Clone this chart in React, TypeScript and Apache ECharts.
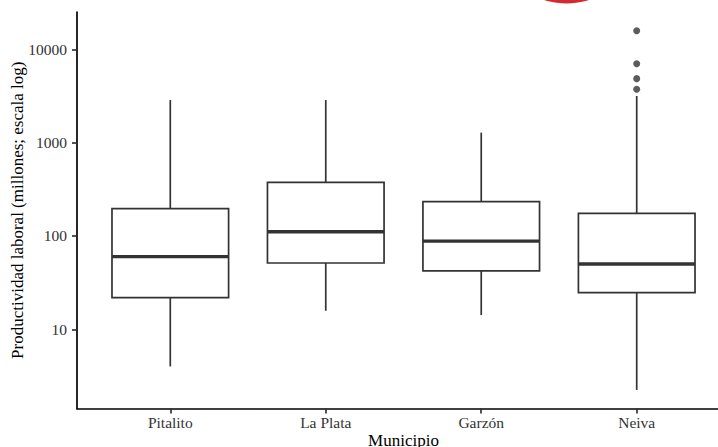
import React, { useEffect, useRef } from "react";
import * as echarts from "echarts";

const categories = ["Pitalito", "La Plata", "Garzón", "Neiva"];
const whiskerLow = [4.0, 15.8, 14.2, 2.24];
const q1 = [21.8, 51.3, 42.2, 24.7];
const median = [60, 111, 88, 50];
const q3 = [196, 376, 233, 175];
const whiskerHigh = [2860, 2860, 1280, 3160];
const outlierCategory = [4, 4, 4, 4];
const outlierValues = [15800, 7000, 4850, 3730];
const yTicks = [10, 100, 1000, 10000];

const FONT = "'Liberation Serif', 'DejaVu Serif', serif";
const BOX_COLOR = "#333333";

export default function App() {
  const ref = useRef<HTMLDivElement>(null);

  useEffect(() => {
    if (!ref.current) return;
    const chart = echarts.init(ref.current, null, { renderer: "svg" });

    const boxData = categories.map((_, i) => [
      i + 1,
      whiskerLow[i],
      q1[i],
      median[i],
      q3[i],
      whiskerHigh[i],
    ]);
    const outlierData = outlierValues.map((v, i) => [outlierCategory[i], v]);

    const renderItem = (params: any, api: any) => {
      const x = api.value(0);
      const pLow = api.coord([x, api.value(1)]);
      const pQ1 = api.coord([x, api.value(2)]);
      const pMed = api.coord([x, api.value(3)]);
      const pQ3 = api.coord([x, api.value(4)]);
      const pHigh = api.coord([x, api.value(5)]);
      const xl = api.coord([x - 0.375, api.value(3)])[0];
      const xr = api.coord([x + 0.375, api.value(3)])[0];
      const cx = pMed[0];
      const lineStyle = { stroke: BOX_COLOR, lineWidth: 1.7, fill: null };
      return {
        type: "group",
        children: [
          {
            type: "line",
            shape: { x1: cx, y1: pHigh[1], x2: cx, y2: pQ3[1] },
            style: lineStyle,
          },
          {
            type: "line",
            shape: { x1: cx, y1: pQ1[1], x2: cx, y2: pLow[1] },
            style: lineStyle,
          },
          {
            type: "rect",
            shape: { x: xl, y: pQ3[1], width: xr - xl, height: pQ1[1] - pQ3[1] },
            style: { fill: "#ffffff", stroke: BOX_COLOR, lineWidth: 1.7 },
          },
          {
            type: "line",
            shape: { x1: xl, y1: pMed[1], x2: xr, y2: pMed[1] },
            style: { stroke: BOX_COLOR, lineWidth: 3.4 },
          },
        ],
      };
    };

    chart.setOption({
      animation: false,
      textStyle: { fontFamily: FONT },
      grid: {
        left: 77,
        top: 12,
        width: 653,
        height: 396.5,
        containLabel: false,
        outerBoundsMode: "none",
      },
      xAxis: {
        type: "value",
        min: 0.4,
        max: 4.6,
        name: "Municipio",
        nameLocation: "middle",
        nameGap: 23,
        nameMoveOverlap: false,
        nameTextStyle: { fontFamily: FONT, fontSize: 17, color: "#000000" },
        splitLine: { show: false },
        axisLine: { show: true, lineStyle: { color: "#000000", width: 1.7 } },
        axisTick: {
          show: true,
          length: 5,
          customValues: [1, 2, 3, 4],
          lineStyle: { color: BOX_COLOR, width: 1.7 },
        },
        axisLabel: {
          customValues: [1, 2, 3, 4],
          margin: 6,
          fontFamily: FONT,
          fontSize: 15.5,
          color: "#333333",
          formatter: (v: number) => categories[Math.round(v) - 1] ?? "",
        },
      },
      yAxis: {
        type: "log",
        logBase: 10,
        min: 1.4168,
        max: 25104,
        name: "Productividad laboral (millones; escala log)",
        nameLocation: "middle",
        nameGap: 51,
        nameMoveOverlap: false,
        nameTextStyle: { fontFamily: FONT, fontSize: 17, color: "#000000" },
        splitLine: { show: false },
        minorTick: { show: false },
        axisLine: { show: true, lineStyle: { color: "#000000", width: 1.7 } },
        axisTick: {
          show: true,
          length: 5,
          customValues: yTicks,
          lineStyle: { color: BOX_COLOR, width: 1.7 },
        },
        axisLabel: {
          customValues: yTicks,
          margin: 10,
          fontFamily: FONT,
          fontSize: 15.5,
          color: "#333333",
          formatter: (v: number) => String(Math.round(v)),
        },
      },
      series: [
        {
          type: "custom",
          renderItem,
          data: boxData,
          encode: { x: 0, y: [1, 2, 3, 4, 5] },
          clip: false,
        },
        {
          type: "scatter",
          data: outlierData,
          symbol: "circle",
          symbolSize: 7,
          itemStyle: { color: BOX_COLOR },
          z: 5,
        },
      ],
      graphic: [
        {
          type: "circle",
          shape: { cx: 566.5, cy: -70.5, r: 74 },
          style: { fill: "#d42a2f" },
          z: 100,
        },
      ],
    });

    return () => chart.dispose();
  }, []);

  return (
    <div
      ref={ref}
      style={{ position: "fixed", left: 0, top: 0, width: 718, height: 447, background: "#ffffff" }}
    />
  );
}
